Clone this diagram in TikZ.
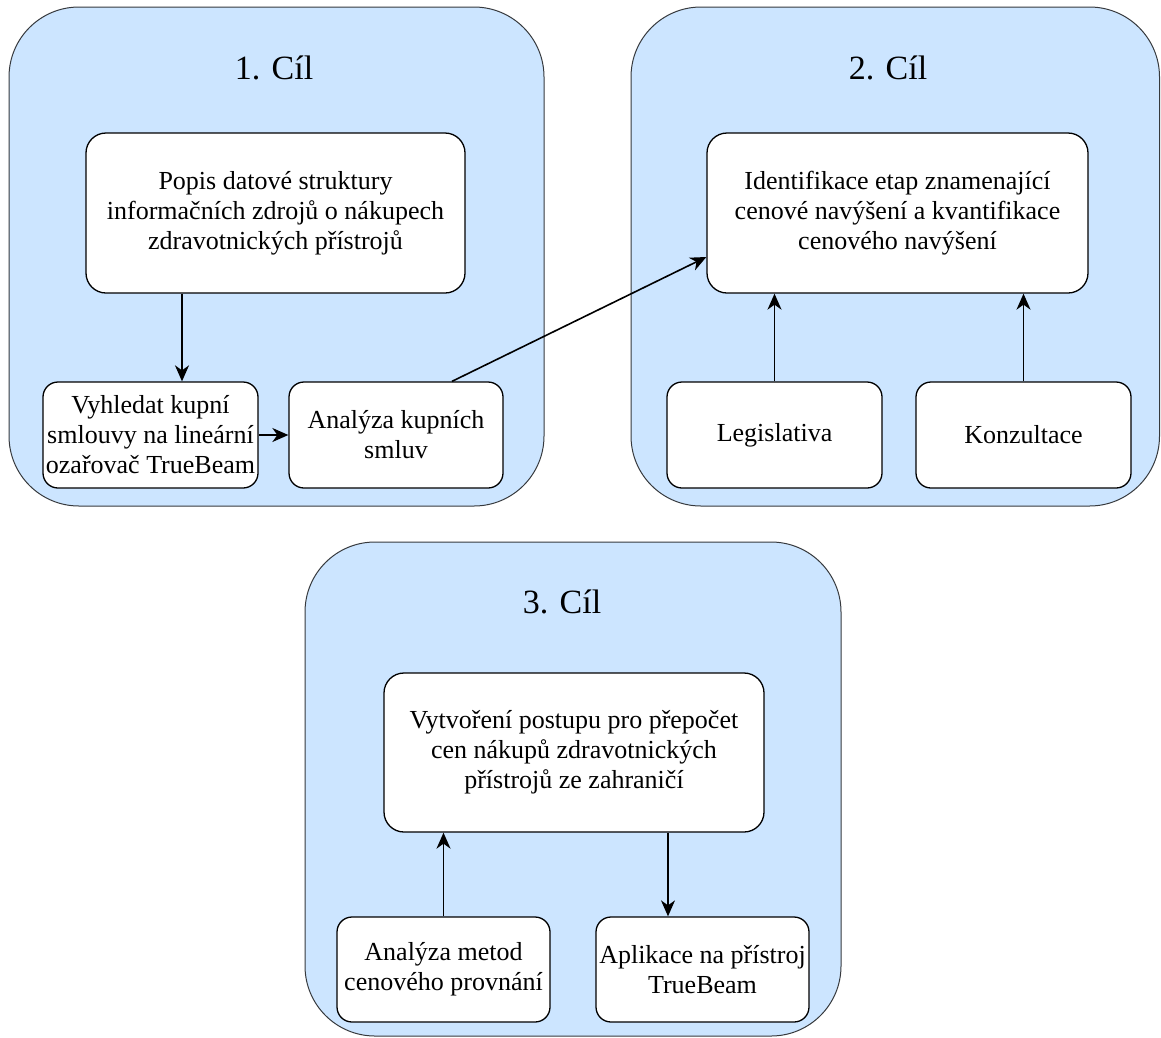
\documentclass[tikz,border=0pt]{standalone}
\usepackage{fontspec}
\setmainfont{Liberation Serif}
\usetikzlibrary{arrows.meta}
\definecolor{cfill}{RGB}{204,229,255}
\definecolor{cline}{RGB}{54,57,61}
\begin{document}
\begin{tikzpicture}[x=1pt,y=-1pt,
  cont/.style={draw=cline, line width=1pt, fill=cfill, rounded corners=70pt, inner sep=0pt},
  bigbox/.style={draw=black, line width=1.3pt, fill=white, rounded corners=20pt, align=center,
     minimum width=380pt, minimum height=160pt, inner sep=0pt, font=\fontsize{26}{30}\selectfont},
  smallbox/.style={draw=black, line width=1.3pt, fill=white, rounded corners=15pt, align=center,
     minimum width=214pt, minimum height=106pt, inner sep=0pt, font=\fontsize{26}{30}\selectfont},
  ttl/.style={anchor=base, font=\fontsize{34}{40}\selectfont},
  arr/.style={-{Stealth[length=16pt,width=14pt,inset=5pt]}, line width=1.6pt, draw=black}]
\useasboundingbox (0,0) rectangle (1161,1037);
% containers
\node[cont, minimum width=535pt, minimum height=499pt] (c1) at (276.5,256.5) {};
\node[cont, minimum width=528.5pt, minimum height=499pt] (c2) at (895.25,256.5) {};
\node[cont, minimum width=536pt, minimum height=494pt] (c3) at (573,789) {};
% titles
\node[ttl] (t1) at (274,79) {1. Cíl};
\node[ttl] (t2) at (888,79) {2. Cíl};
\node[ttl] (t3) at (562,613) {3. Cíl};
% goal 1
\node[bigbox, minimum width=379pt] (p1) at (275.5,213) {Popis datové struktury\\informačních zdrojů o nákupech\\zdravotnických přístrojů};
\node[smallbox, minimum width=215pt] (v1) at (150.5,435) {Vyhledat kupní\\smlouvy na lineární\\ozařovač TrueBeam};
\node[smallbox] (k1) at (396,435) {Analýza kupních\\smluv};
% goal 2
\node[bigbox, minimum width=381pt] (p2) at (897.5,213) {Identifikace etap znamenající\\cenové navýšení a kvantifikace\\cenového navýšení};
\node[smallbox, minimum width=215pt] (leg) at (774.5,435) {Legislativa};
\node[smallbox, minimum width=215pt] (kon) at (1023.5,435) {Konzultace};
% goal 3
\node[bigbox, minimum height=159pt] (p3) at (574,752.5) {Vytvoření postupu pro přepočet\\cen nákupů zdravotnických\\přístrojů ze zahraničí};
\node[smallbox, minimum width=213pt, minimum height=105pt] (am) at (443.5,969.5) {Analýza metod\\cenového provnání};
\node[smallbox, minimum width=213pt, minimum height=105pt] (ap) at (702.5,969.5) {Aplikace na přístroj\\TrueBeam};
% connector helper coordinates
\coordinate (x1) at (182,0);
\coordinate (x2) at (452,0);
\coordinate (y2) at (0,257);
\coordinate (x3) at (668,0);
% connectors
\draw[arr] (p1.south -| x1) -- (v1.north -| x1);
\draw[arr] (v1.east) -- (k1.west);
\draw[arr] (k1.north -| x2) -- (p2.west |- y2);
\draw[arr] (leg.north) -- (leg.north |- p2.south);
\draw[arr] (kon.north) -- (kon.north |- p2.south);
\draw[arr] (am.north) -- (am.north |- p3.south);
\draw[arr] (p3.south -| x3) -- (ap.north -| x3);
\end{tikzpicture}
\end{document}
